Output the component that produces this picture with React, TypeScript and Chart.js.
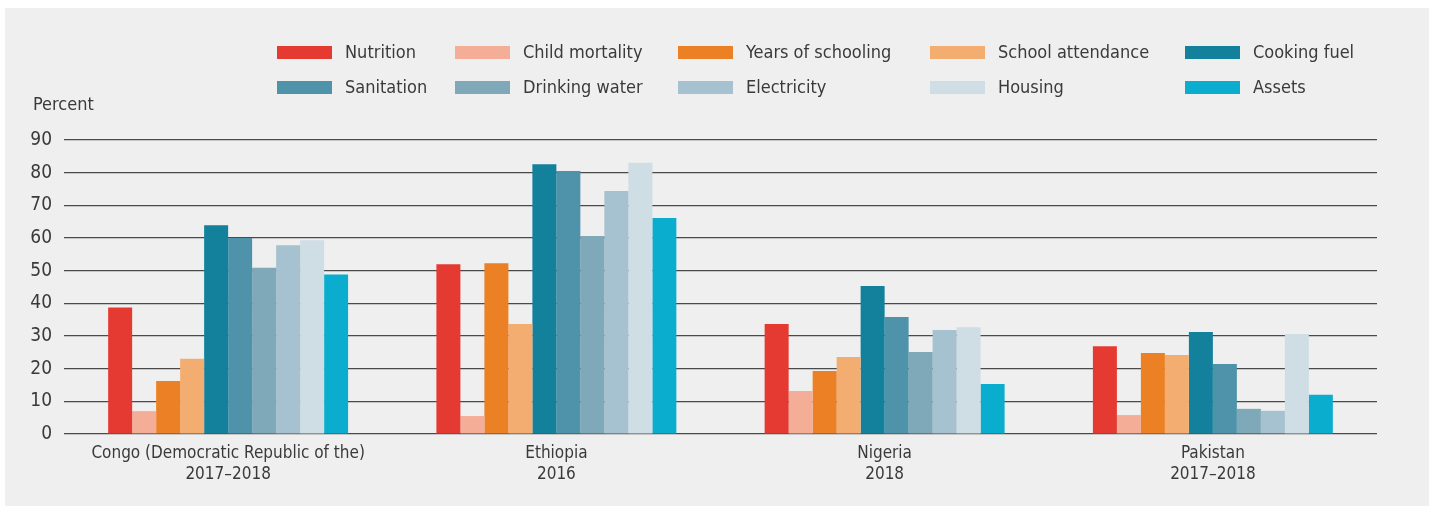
import React, { useEffect, useRef } from 'react';
import { Chart, registerables } from 'chart.js';

Chart.register(...registerables);

const categories: string[][] = [
  ['Congo (Democratic Republic of the)', '2017–2018'],
  ['Ethiopia', '2016'],
  ['Nigeria', '2018'],
  ['Pakistan', '2017–2018'],
];

const seriesNames = [
  'Nutrition',
  'Child mortality',
  'Years of schooling',
  'School attendance',
  'Cooking fuel',
  'Sanitation',
  'Drinking water',
  'Electricity',
  'Housing',
  'Assets',
];

const seriesColors = [
  '#e53a32',
  '#f4ae98',
  '#eb8024',
  '#f4ad70',
  '#13819b',
  '#4f93ab',
  '#7fa8b9',
  '#a6c1cf',
  '#cfdde4',
  '#0aadcd',
];

const nutrition = [38.7, 52.0, 33.7, 26.9];
const childMortality = [7.0, 5.5, 13.2, 5.8];
const yearsOfSchooling = [16.2, 52.3, 19.3, 24.8];
const schoolAttendance = [23.0, 33.7, 23.6, 24.2];
const cookingFuel = [63.9, 82.6, 45.3, 31.2];
const sanitation = [60.0, 80.5, 35.8, 21.4];
const drinkingWater = [50.9, 60.6, 25.1, 7.7];
const electricity = [57.8, 74.4, 31.8, 7.1];
const housing = [59.3, 83.0, 32.7, 30.6];
const assets = [48.8, 66.1, 15.3, 12.0];

const seriesValues = [
  nutrition,
  childMortality,
  yearsOfSchooling,
  schoolAttendance,
  cookingFuel,
  sanitation,
  drinkingWater,
  electricity,
  housing,
  assets,
];

const yTicks = [0, 10, 20, 30, 40, 50, 60, 70, 80, 90];
const yAxisTitle = 'Percent';

const FONT = "'Liberation Sans Narrow', 'DejaVu Sans Condensed', 'Roboto', sans-serif";
const TEXT_COLOR = '#3a3a3a';

const legendColumnsX = [272, 450, 673, 925, 1180];
const legendRowsY = [44.5, 79.5];

const overlayPlugin = {
  id: 'customLegend',
  afterDraw(chart: any) {
    const ctx = chart.ctx as CanvasRenderingContext2D;
    ctx.save();
    ctx.font = `18px ${FONT}`;
    ctx.textBaseline = 'middle';
    ctx.textAlign = 'left';
    chart.data.datasets.forEach((ds: any, i: number) => {
      const col = i % 5;
      const row = Math.floor(i / 5);
      const x = legendColumnsX[col];
      const y = legendRowsY[row];
      ctx.fillStyle = ds.backgroundColor;
      ctx.fillRect(x, y - 6.5, 55, 13);
      ctx.fillStyle = TEXT_COLOR;
      ctx.fillText(ds.label, x + 68, y + 1);
    });
    ctx.fillText(yAxisTitle, 28, 97);
    ctx.restore();
  },
};

export default function App() {
  const canvasRef = useRef<HTMLCanvasElement | null>(null);

  useEffect(() => {
    if (!canvasRef.current) return;
    const chart = new Chart(canvasRef.current, {
      type: 'bar',
      data: {
        labels: categories,
        datasets: seriesNames.map((name, i) => ({
          label: name,
          data: seriesValues[i],
          backgroundColor: seriesColors[i],
          borderWidth: 0,
          categoryPercentage: 0.731,
          barPercentage: 1,
        })),
      },
      options: {
        responsive: false,
        animation: false,
        layout: { padding: { top: 132, right: 52, left: 0, bottom: 0 } },
        plugins: {
          legend: { display: false },
          tooltip: { enabled: false },
          title: { display: false },
        },
        scales: {
          x: {
            grid: { display: false },
            border: { display: false },
            ticks: {
              color: TEXT_COLOR,
              font: { family: FONT, size: 17, lineHeight: 1.22 },
              padding: 1,
              maxRotation: 0,
              autoSkip: false,
            },
            afterFit(scale: any) {
              scale.height = 72;
            },
          },
          y: {
            min: 0,
            max: 90,
            afterBuildTicks(scale: any) {
              scale.ticks = yTicks.map((v) => ({ value: v }));
            },
            grid: {
              color: '#4a4a4a',
              lineWidth: 1.2,
              drawTicks: false,
            },
            border: { display: false },
            ticks: {
              color: TEXT_COLOR,
              font: { family: FONT, size: 19 },
              padding: 12,
            },
            afterFit(scale: any) {
              scale.width = 59;
            },
          },
        },
      },
      plugins: [overlayPlugin],
    });
    return () => chart.destroy();
  }, []);

  return (
    <div
      style={{
        position: 'fixed',
        left: 5,
        top: 8,
        width: 1424,
        height: 498,
        background: '#efefef',
      }}
    >
      <canvas
        ref={canvasRef}
        width={1424}
        height={498}
        style={{ width: 1424, height: 498, display: 'block' }}
      />
    </div>
  );
}
